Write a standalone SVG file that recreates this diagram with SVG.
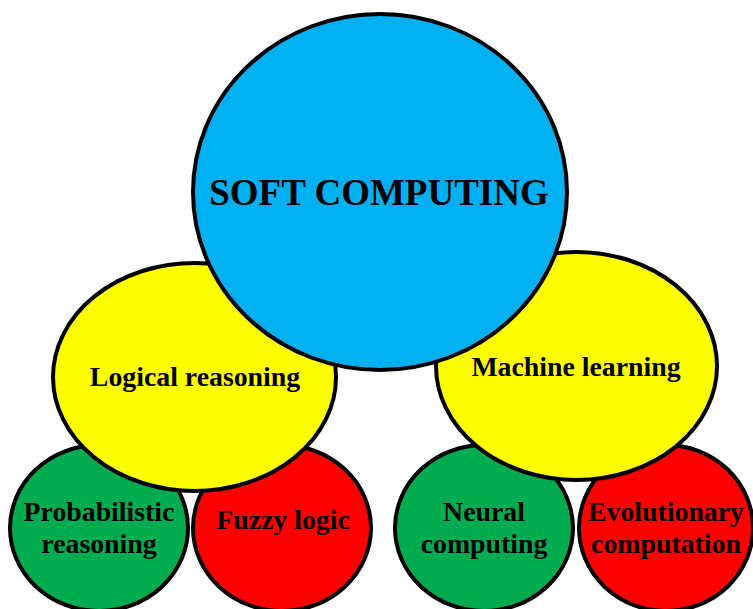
<svg xmlns="http://www.w3.org/2000/svg" width="753" height="609" viewBox="0 0 753 609">
  <style>
    .shape { stroke: #000; stroke-width: 4; }
    .green { fill: #00ac4f; }
    .red { fill: #ff0000; }
    .yellow { fill: #ffff00; }
    .blue { fill: #00b0f0; }
    text { font-family: "Liberation Serif", "Times New Roman", serif; font-weight: bold; fill: #000; text-anchor: middle; }
    .small { font-size: 27.8px; }
    .title { font-size: 37px; }
  </style>
  <rect width="753" height="609" fill="#fff"/>

  <!-- bottom row -->
  <g id="probabilistic-reasoning">
    <ellipse class="shape green" cx="99" cy="528" rx="89" ry="83"/>
    <text class="small" x="99" y="521">Probabilistic</text>
    <text class="small" x="99" y="553">reasoning</text>
  </g>
  <g id="fuzzy-logic">
    <ellipse class="shape red" cx="282" cy="528" rx="89" ry="83"/>
    <text class="small" x="283" y="529">Fuzzy logic</text>
  </g>
  <g id="neural-computing">
    <ellipse class="shape green" cx="484" cy="528" rx="89" ry="83"/>
    <text class="small" x="484" y="521">Neural</text>
    <text class="small" x="484" y="553">computing</text>
  </g>
  <g id="evolutionary-computation">
    <ellipse class="shape red" cx="666" cy="528" rx="87" ry="83"/>
    <text class="small" x="666" y="521">Evolutionary</text>
    <text class="small" x="666" y="553">computation</text>
  </g>

  <!-- middle row -->
  <g id="logical-reasoning">
    <ellipse class="shape yellow" cx="194.5" cy="377" rx="141.5" ry="114"/>
    <text class="small" x="195" y="386">Logical reasoning</text>
  </g>
  <g id="machine-learning">
    <ellipse class="shape yellow" cx="576.5" cy="366" rx="140.5" ry="114"/>
    <text class="small" x="576" y="376">Machine learning</text>
  </g>

  <!-- top -->
  <g id="soft-computing">
    <ellipse class="shape blue" cx="380" cy="192" rx="187" ry="178"/>
    <text class="title" x="379" y="205">SOFT COMPUTING</text>
  </g>

  <g id="connectors"/>
</svg>
